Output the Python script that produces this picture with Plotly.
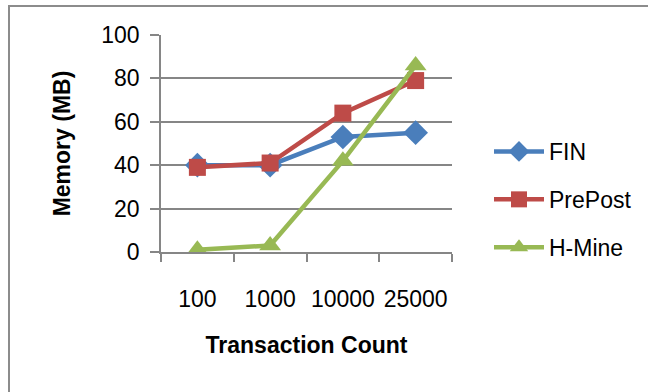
import plotly.graph_objects as go

categories = ["100", "1000", "10000", "25000"]
fin = [40, 40, 53, 55]
prepost = [39, 41, 64, 79]
hmine = [1, 3, 42, 86]

W, H = 648, 392
L, R, T, B = 161, 196, 35, 140
pw, ph = W - L - R, H - T - B

FONT = "Liberation Sans, Arial, sans-serif"
AXIS_GRAY = "#868686"

series = [
    ("FIN", fin, "#4A7EBB", "diamond", 19),
    ("PrePost", prepost, "#BE4B48", "square", 17),
    ("H-Mine", hmine, "#98B954", "triangle-up", 19),
]

fig = go.Figure()
for name, vals, color, sym, size in series:
    fig.add_trace(go.Scatter(
        x=categories, y=vals, name=name, mode="lines+markers",
        line=dict(color=color, width=4.5),
        marker=dict(symbol=sym, size=size, color=color),
        legendgroup=name,
    ))

# chart frame: only its top and left edges fall inside the page
fig.add_shape(type="rect", xref="paper", yref="paper",
              x0=(9 - L) / pw, x1=(660 - L) / pw,
              y0=(H - B - 400) / ph, y1=(H - B - 6) / ph,
              line=dict(color="#8C8C8C", width=2), layer="below")

fig.update_layout(
    width=W, height=H,
    margin=dict(l=L, r=R, t=T, b=B, autoexpand=False),
    paper_bgcolor="white", plot_bgcolor="white",
    font=dict(family=FONT, size=23, color="black"),
    showlegend=True,
    legend=dict(x=(489 - L) / pw, y=(H - B - 130) / ph, xanchor="left", yanchor="top",
                font=dict(size=23), traceorder="grouped", tracegroupgap=15,
                itemwidth=50, bgcolor="rgba(0,0,0,0)"),
    xaxis=dict(
        type="category", showgrid=False, automargin=False,
        showline=True, linecolor=AXIS_GRAY, linewidth=1.5,
        ticks="outside", tickson="boundaries", ticklen=8, tickcolor=AXIS_GRAY, tickwidth=1.5,
        tickangle=0, ticklabelstandoff=26,
        title=dict(text="<b>Transaction Count</b>", font=dict(size=23), standoff=26),
        range=[-0.5, 3.5],
    ),
    yaxis=dict(
        range=[0, 100], dtick=20, automargin=False,
        showgrid=True, gridcolor=AXIS_GRAY, gridwidth=1.5,
        showline=True, linecolor=AXIS_GRAY, linewidth=1.5,
        ticks="outside", ticklen=9, tickcolor=AXIS_GRAY, tickwidth=1.5,
        ticklabelstandoff=6, zeroline=False,
        title=dict(text="<b>Memory (MB)</b>", font=dict(size=23), standoff=24),
    ),
)

fig.write_html("out.html")
